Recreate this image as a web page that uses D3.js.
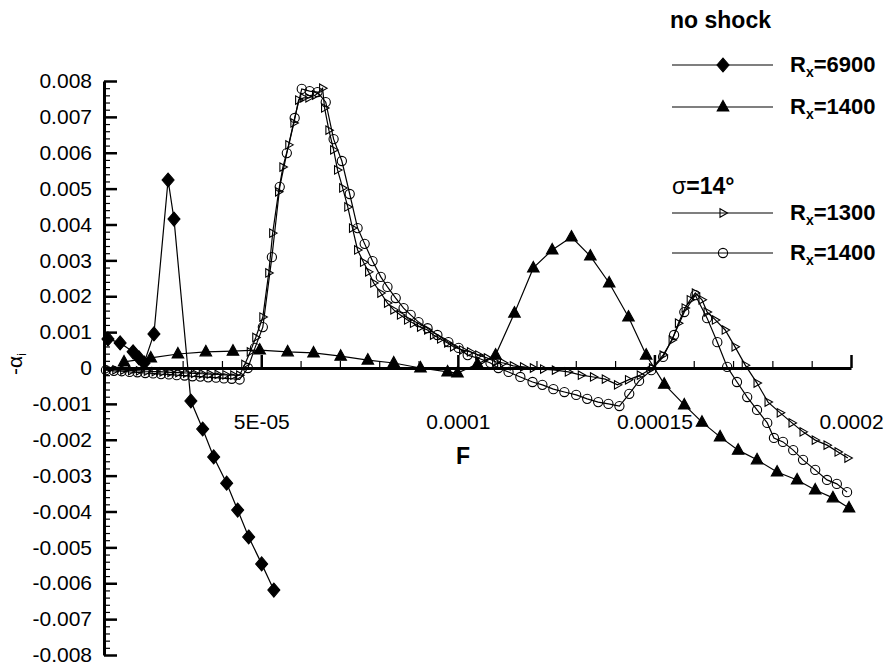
<!DOCTYPE html>
<html><head><meta charset="utf-8">
<script src="https://cdn.jsdelivr.net/npm/d3@7"></script>
<style>body{margin:0;background:#fff}svg{display:block}text{font-family:"Liberation Sans",Arial,sans-serif;fill:#000}</style>
</head><body>
<svg id="c" width="884" height="667"></svg>
<script>
// units: F in 1e-5, -alpha_i in 1e-3
const F_UNIT = 1e-5, V_UNIT = 1e-3;

const noShock6900 = [[1.10,0.81],[1.41,0.70],[1.74,0.45],[1.89,0.28],[2.02,0.14],[2.27,0.95],[2.63,5.24],[2.78,4.15],[3.21,-0.92],[3.51,-1.70],[3.79,-2.48],[4.12,-3.21],[4.40,-3.96],[4.68,-4.71],[5.01,-5.46],[5.32,-6.19]];

const noShock1400 = [[1.51,0.17],[2.19,0.28],[2.88,0.39],[3.59,0.45],[4.28,0.47],[4.96,0.50],[5.67,0.45],[6.33,0.42],[7.02,0.33],[7.71,0.22],[8.37,0.14],[9.05,0.0],[9.74,-0.11],[9.99,-0.14],[10.50,0.11],[10.96,0.36],[11.44,1.53],[11.92,2.79],[12.40,3.29],[12.89,3.65],[13.37,3.12],[13.85,2.37],[14.34,1.42],[14.79,0.36],[15.25,-0.45],[15.76,-1.03],[16.21,-1.51],[16.67,-1.92],[17.13,-2.29],[17.61,-2.56],[18.12,-2.90],[18.63,-3.12],[19.09,-3.40],[19.54,-3.62],[19.95,-3.90]];

const sigma1300 = [[1.10,-0.04],[1.30,-0.05],[1.50,-0.06],[1.70,-0.07],[1.90,-0.08],[2.10,-0.09],[2.30,-0.10],[2.50,-0.11],[2.70,-0.12],[2.90,-0.13],[3.10,-0.14],[3.30,-0.15],[3.50,-0.16],[3.70,-0.17],[3.90,-0.18],[4.10,-0.19],[4.30,-0.20],[4.45,-0.20],[4.58,0.10],[4.72,0.45],[4.86,0.85],[5.04,1.42],[5.19,2.65],[5.29,3.76],[5.44,4.91],[5.55,5.60],[5.70,6.22],[5.83,6.83],[5.95,7.47],[6.08,7.53],[6.21,7.53],[6.38,7.61],[6.56,7.80],[6.61,7.25],[6.72,6.63],[6.84,6.08],[6.94,5.52],[7.07,5.02],[7.20,4.49],[7.32,3.90],[7.45,3.29],[7.60,2.95],[7.73,2.68],[7.86,2.37],[8.04,2.09],[8.21,1.81],[8.37,1.62],[8.54,1.48],[8.72,1.34],[8.87,1.25],[9.05,1.14],[9.23,1.06],[9.38,0.92],[9.56,0.81],[9.74,0.70],[9.89,0.59],[10.12,0.50],[10.32,0.45],[10.53,0.36],[10.75,0.28],[10.96,0.17],[11.16,0.14],[11.41,0.06],[11.67,0.03],[11.92,0.0],[12.18,-0.03],[12.48,-0.06],[12.81,-0.11],[13.14,-0.20],[13.45,-0.25],[13.75,-0.31],[14.06,-0.47],[14.34,-0.33],[14.64,-0.20],[14.95,0.0],[15.22,0.36],[15.45,0.78],[15.61,1.25],[15.78,1.67],[15.91,1.90],[16.04,2.09],[16.21,1.90],[16.34,1.56],[16.55,1.34],[16.80,1.06],[17.05,0.59],[17.31,0.08],[17.61,-0.42],[17.89,-0.95],[18.20,-1.25],[18.50,-1.53],[18.78,-1.78],[19.09,-2.01],[19.39,-2.15],[19.67,-2.34],[19.92,-2.51]];

const sigma1400 = [[1.05,-0.06],[1.25,-0.08],[1.45,-0.09],[1.65,-0.11],[1.85,-0.12],[2.05,-0.14],[2.25,-0.15],[2.45,-0.17],[2.65,-0.18],[2.85,-0.20],[3.05,-0.21],[3.25,-0.23],[3.45,-0.24],[3.65,-0.26],[3.85,-0.27],[4.05,-0.29],[4.25,-0.30],[4.45,-0.32],[4.66,0.0],[4.84,0.56],[5.04,1.14],[5.27,3.09],[5.47,5.05],[5.65,5.99],[5.85,6.97],[6.03,7.78],[6.23,7.72],[6.43,7.69],[6.64,7.41],[6.84,6.38],[7.05,5.77],[7.25,4.85],[7.45,3.90],[7.63,3.46],[7.83,2.98],[8.04,2.54],[8.21,2.26],[8.42,1.95],[8.62,1.67],[8.80,1.48],[9.00,1.28],[9.23,1.11],[9.48,0.92],[9.76,0.72],[10.02,0.56],[10.25,0.36],[10.58,0.25],[10.83,0.14],[11.03,0.0],[11.29,-0.11],[11.59,-0.25],[11.90,-0.39],[12.15,-0.47],[12.43,-0.59],[12.71,-0.67],[13.01,-0.75],[13.29,-0.86],[13.57,-0.95],[13.83,-1.00],[14.11,-1.06],[14.36,-0.72],[14.61,-0.36],[14.92,-0.06],[15.22,0.31],[15.50,0.92],[15.76,1.56],[16.04,2.03],[16.34,1.39],[16.60,0.72],[16.85,0.03],[17.10,-0.39],[17.36,-0.81],[17.61,-1.17],[17.87,-1.53],[18.04,-1.95],[18.27,-2.06],[18.53,-2.29],[18.78,-2.56],[19.09,-2.84],[19.39,-3.12],[19.64,-3.23],[19.90,-3.46]];

const xMajorTicks = [5e-5, 1e-4, 1.5e-4, 2e-4];
const xTickLabels = ["5E-05", "0.0001", "0.00015", "0.0002"];
const yMajorTicks = [-0.008,-0.007,-0.006,-0.005,-0.004,-0.003,-0.002,-0.001,0,0.001,0.002,0.003,0.004,0.005,0.006,0.007,0.008];
const yTickLabels = ["-0.008","-0.007","-0.006","-0.005","-0.004","-0.003","-0.002","-0.001","0","0.001","0.002","0.003","0.004","0.005","0.006","0.007","0.008"];

const svg = d3.select("#c");
const x = d3.scaleLinear().domain([1e-5, 2e-4]).range([104, 851]);
const y = d3.scaleLinear().domain([-0.008, 0.008]).range([655, 81]);

const shapes = {
  diamond: "M0,-7L6,0L0,7L-6,0Z",
  triUp: "M0,-6.5L5.8,4L-5.8,4Z",
  triRight: "M4.5,0L-3,-4.2L-3,4.2Z"
};

const series = [
  {data: noShock6900, shape: "diamond", fill: "#000"},
  {data: noShock1400, shape: "triUp", fill: "#000"},
  {data: sigma1300, shape: "triRight", fill: "none"},
  {data: sigma1400, shape: "circle", fill: "none"}
];

const line = d3.line().x(d => x(d[0]*F_UNIT)).y(d => y(d[1]*V_UNIT));
const gData = svg.append("g");
series.forEach(s => {
  gData.append("path").attr("d", line(s.data)).attr("fill","none").attr("stroke","#000").attr("stroke-width",1.2);
});
function drawMarker(g, s, cx, cy) {
  if (s.shape === "circle") {
    g.append("circle").attr("cx",cx).attr("cy",cy).attr("r",4.6).attr("fill","none").attr("stroke","#000").attr("stroke-width",1.1);
  } else {
    g.append("path").attr("d", shapes[s.shape]).attr("transform",`translate(${cx},${cy})`)
      .attr("fill", s.fill).attr("stroke","#000").attr("stroke-width",1.1);
  }
}
series.forEach(s => {
  s.data.forEach(d => drawMarker(gData, s, x(d[0]*F_UNIT), y(d[1]*V_UNIT)));
});

// axes
const fontTick = "21px";
const yMinor = d3.range(-80, 81, 2).filter(v => v % 10 !== 0).map(v => v/10000);
svg.append("g").attr("transform","translate(104,0)")
  .call(d3.axisLeft(y).tickValues(yMinor).tickSizeInner(-6).tickSizeOuter(0).tickFormat(""))
  .call(g => g.select(".domain").remove())
  .call(g => g.selectAll("line").attr("stroke-width",1.2));
svg.append("g").attr("transform","translate(104,0)")
  .call(d3.axisLeft(y).tickValues(yMajorTicks).tickSizeInner(-13).tickSizeOuter(0).tickPadding(12)
    .tickFormat((d,i) => yTickLabels[i]))
  .call(g => g.select(".domain").attr("stroke-width",3))
  .call(g => g.selectAll("line").attr("stroke-width",2.5))
  .call(g => g.selectAll("text").attr("font-size",fontTick).attr("font-family",'"Liberation Sans",Arial,sans-serif'));

const xMinor = d3.range(2, 20).filter(v => v % 5 !== 0).map(v => v*1e-5);
const y0 = y(0);
svg.append("g").attr("transform",`translate(0,${y0})`)
  .call(d3.axisBottom(x).tickValues(xMinor).tickSizeInner(-7).tickSizeOuter(0).tickFormat(""))
  .call(g => g.select(".domain").remove())
  .call(g => g.selectAll("line").attr("stroke-width",1.2));
svg.append("g").attr("transform",`translate(0,${y0})`)
  .call(d3.axisBottom(x).tickValues(xMajorTicks).tickSizeInner(-13).tickSizeOuter(0).tickPadding(46)
    .tickFormat((d,i) => xTickLabels[i]))
  .call(g => g.select(".domain").attr("stroke-width",3))
  .call(g => g.selectAll("line").attr("stroke-width",2.5))
  .call(g => g.selectAll("text").attr("font-size",fontTick).attr("font-family",'"Liberation Sans",Arial,sans-serif'));

// axis titles
svg.append("text").attr("x",463).attr("y",464).attr("text-anchor","middle")
  .attr("font-size","23px").attr("font-weight","bold").text("F");
const yt = svg.append("text").attr("transform","translate(22,364) rotate(-90)")
  .attr("text-anchor","middle").attr("font-size","21px");
yt.append("tspan").text("-α");
yt.append("tspan").attr("font-size","12px").attr("dy",4).text("i");

// legend
const legendLabels = ["6900","1400","1300","1400"];
const legendY = [65, 107, 213, 253];
svg.append("text").attr("x",670).attr("y",28).attr("font-size","23px").attr("font-weight","bold").text("no shock");
const sig = svg.append("text").attr("x",672).attr("y",194).attr("font-size","23px").attr("font-weight","bold");
sig.append("tspan").attr("font-weight","normal").text("σ");
sig.append("tspan").text("=14°");
series.forEach((s,i) => {
  const ly = legendY[i];
  svg.append("line").attr("x1",672).attr("x2",773).attr("y1",ly).attr("y2",ly).attr("stroke","#000").attr("stroke-width",1.2);
  drawMarker(svg, s, 723, ly);
  const t = svg.append("text").attr("x",790).attr("y",ly+7).attr("font-size","22px").attr("font-weight","bold");
  t.append("tspan").text("R");
  t.append("tspan").attr("font-size","14px").attr("dy",5).text("x");
  t.append("tspan").attr("dy",-5).text("=" + legendLabels[i]);
});
</script>
</body></html>
